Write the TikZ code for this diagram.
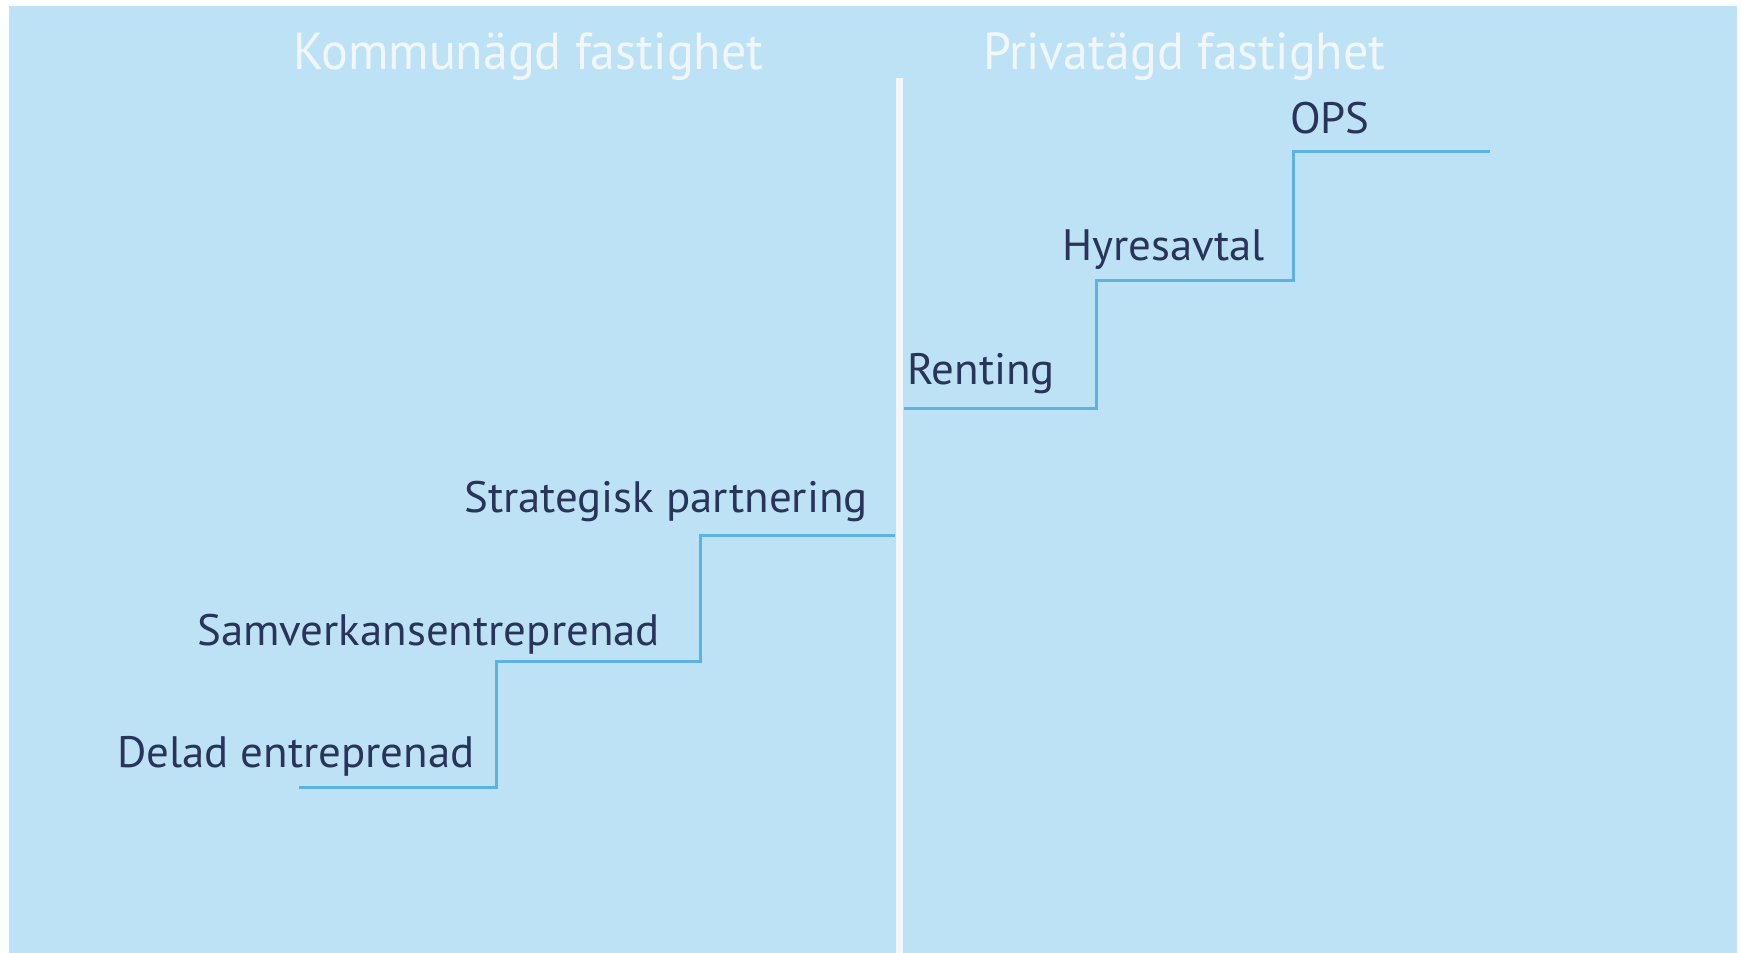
\documentclass[tikz,border=0pt]{standalone}
\usepackage{fontspec}
\setmainfont{PT Sans}
\newfontfamily\labelfont[FakeStretch=1.02]{PT Sans}
\newfontfamily\titlefont[FakeStretch=0.96]{PT Sans}
\definecolor{bgblue}{RGB}{190,226,245}
\definecolor{stepblue}{RGB}{92,178,226}
\definecolor{labelnavy}{RGB}{40,52,88}
\definecolor{divwhite}{RGB}{240,246,250}
\tikzset{
  steplabel/.style={anchor=base west, inner sep=0pt, text=labelnavy, font=\labelfont\fontsize{44}{50}\selectfont},
  sidetitle/.style={anchor=base west, inner sep=0pt, text=divwhite, font=\titlefont\fontsize{52}{60}\selectfont},
  stepline/.style={draw=stepblue, line width=3pt},
  divider/.style={draw=divwhite, line width=7pt}
}
\begin{document}
\begin{tikzpicture}[x=1pt,y=-1pt]
\useasboundingbox (0,0) rectangle (1741,953);
\fill[bgblue] (9,6) rectangle (1737,953);
% divider
\coordinate (dtop) at (899,78);
\coordinate (dbot) at (899,953);
\draw[divider] (dtop) -- (dbot);
% titles
\node[sidetitle] (tleft) at (293,69) {Kommunägd fastighet};
\node[sidetitle] (tright) at (983,69) {Privatägd fastighet};
% left stairs
\coordinate (l0) at (299,787);
\coordinate (l1) at (496,787);
\coordinate (l2) at (496,661);
\coordinate (l3) at (700,661);
\coordinate (l4) at (700,535);
\coordinate (l5) at (895,535);
\draw[stepline] (l0) -- (l1) -- (l2) -- (l3) -- (l4) -- (l5);
\node[steplabel] (delad) at (117,767) {Delad entreprenad};
\node[steplabel] (samv) at (197,645) {Samverkansentreprenad};
\node[steplabel] (strat) at (464,512) {Strategisk partnering};
% right stairs
\coordinate (r0) at (904,408);
\coordinate (r1) at (1096,408);
\coordinate (r2) at (1096,280);
\coordinate (r3) at (1293,280);
\coordinate (r4) at (1293,151);
\coordinate (r5) at (1490,151);
\draw[stepline] (r0) -- (r1) -- (r2) -- (r3) -- (r4) -- (r5);
\node[steplabel] (rent) at (907,384) {Renting};
\node[steplabel] (hyres) at (1062,260) {Hyresavtal};
\node[steplabel] (ops) at (1290,133) {OPS};
\end{tikzpicture}
\end{document}
